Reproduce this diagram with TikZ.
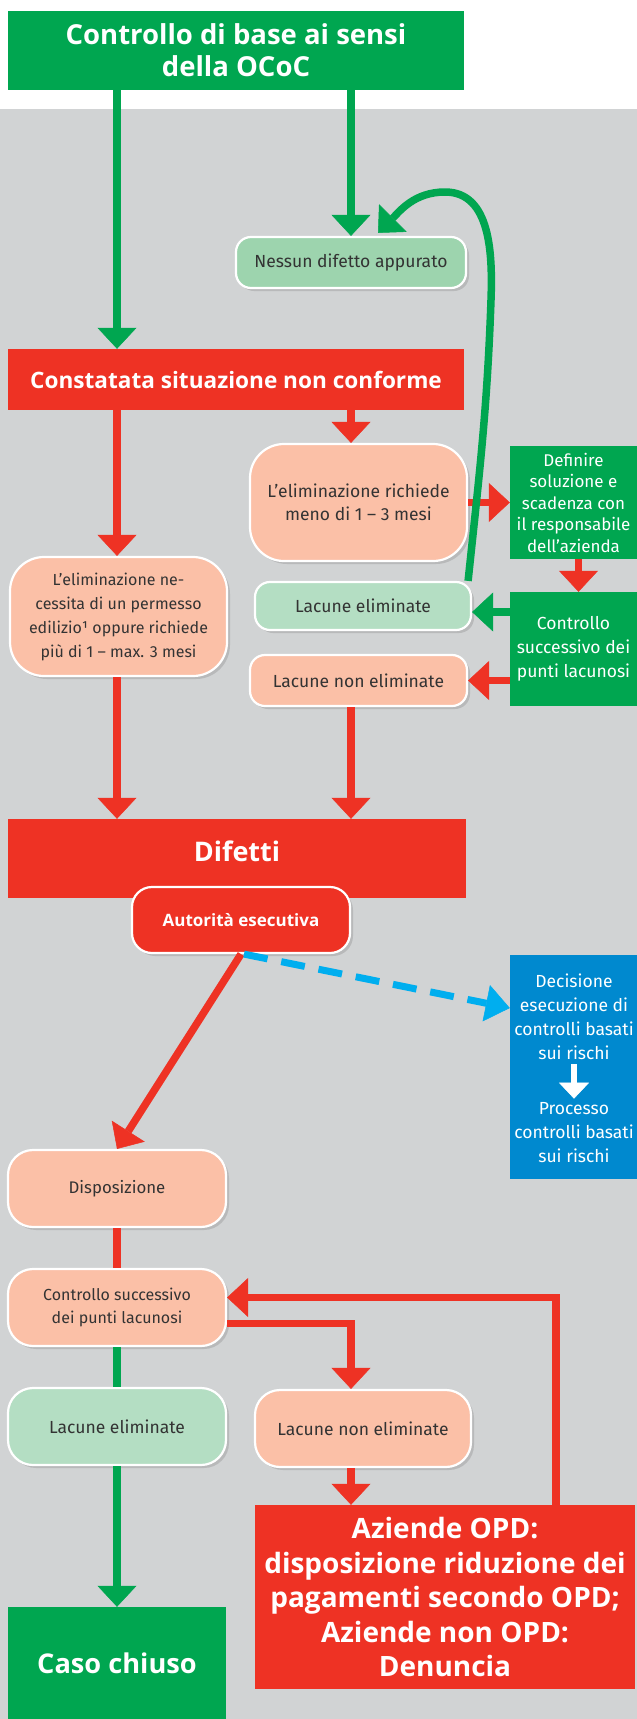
\documentclass[tikz,border=0pt]{standalone}
\usepackage{fontspec}
\setmainfont{Fira Sans}
\newfontfamily\headfont{Open Sans}
\usetikzlibrary{arrows.meta}
\usetikzlibrary{shadows}
\definecolor{ocgreen}{HTML}{00A650}
\definecolor{ocred}{HTML}{EE3224}
\definecolor{salmon}{HTML}{FBC0A7}
\definecolor{mint}{HTML}{9DD4AE}
\definecolor{mintlight}{HTML}{B4DEC3}
\definecolor{ocblue}{HTML}{0089CF}
\definecolor{dashblue}{HTML}{00AEEF}
\definecolor{bggrey}{HTML}{D1D3D4}
\definecolor{txtgrey}{HTML}{333333}

\begin{document}
\begin{tikzpicture}[
    x=1pt, y=1pt,
    every node/.style={inner sep=0pt, align=center},
    small text/.style={font=\fontsize{17.5}{23}\selectfont},
    flat green/.style={fill=ocgreen, text=white},
    flat red/.style={fill=ocred, text=white},
    soft/.style={rounded corners=#1, draw=white, line width=2.2pt, text=txtgrey, small text,
        drop shadow={shadow xshift=3pt, shadow yshift=-3pt, opacity=0.3}},
    soft/.default=16pt,
    green arrow/.style={draw=ocgreen, line width=7.5pt, -{Triangle[width=39pt,length=21pt,line width=0.5pt]}},
    red arrow/.style={draw=ocred, line width=7.5pt, -{Triangle[width=39pt,length=21pt,line width=0.5pt]}},
    green line/.style={draw=ocgreen, line width=7.5pt},
    red line/.style={draw=ocred, line width=7.5pt},
    blue dashed/.style={draw=dashblue, line width=7pt, dash pattern=on 24pt off 14pt,
        -{Triangle[width=37pt,length=24pt,line width=0.5pt]}},
    white arrow/.style={draw=white, line width=6pt, -{Triangle[width=30pt,length=16pt,line width=0.5pt]}}
    ]

    % page and background
    \useasboundingbox (0,0) rectangle (637,-1719);
    \fill[bggrey] (0,-109) rectangle (637,-1719);

    % upper part
    \node[flat green, font=\headfont\bfseries\fontsize{27.5}{32}\selectfont, minimum width=456, minimum height=79] (title) at (236,-50.5)
        {Controllo di base ai sensi\\della OCoC};
    \node[soft=15pt, fill=mint, minimum width=230, minimum height=51] (nessun) at (351,-262.5)
        {Nessun difetto appurato};
    \node[flat red, font=\headfont\bfseries\fontsize{22.6}{30}\selectfont, minimum width=456, minimum height=61] (constat) at (236,-379.5)
        {Constatata situazione non conforme};
    \node[soft=34pt, fill=salmon, minimum width=217, minimum height=117] (richiede) at (358.5,-502.5)
        {L’eliminazione richiede\\meno di 1 – 3 mesi};
    \node[flat green, font=\fontsize{17}{21.5}\selectfont, minimum width=127, minimum height=113] (definire) at (573.5,-502.5)
        {Definire\\soluzione e\\scadenza con\\il responsabile\\dell’azienda};
    \node[flat green, font=\fontsize{17.5}{24}\selectfont, minimum width=127, minimum height=114] (ctrlR) at (573.5,-649)
        {Controllo\\successivo dei\\punti lacunosi};
    \node[soft=15pt, fill=mintlight, minimum width=216, minimum height=48] (lacElimA) at (363,-606)
        {Lacune eliminate};
    \node[soft=15pt, fill=salmon, minimum width=217, minimum height=51] (lacNonA) at (358.5,-680.5)
        {Lacune non eliminate};
    \node[soft=34pt, fill=salmon, font=\fontsize{16}{24}\selectfont, minimum width=217, minimum height=119] (permesso) at (118.5,-616.5)
        {L’eliminazione ne-\\cessita di un permesso\\edilizio¹ oppure richiede\\più di 1 – max. 3 mesi};

    % middle part
    \node[flat red, font=\headfont\bfseries\fontsize{27}{34}\selectfont, text depth=14pt, minimum width=458, minimum height=79] (difetti) at (237,-858.5)
        {Difetti};
    \node[soft=20pt, fill=ocred, text=white, font=\headfont\bfseries\fontsize{17}{20}\selectfont, minimum width=218, minimum height=66] (autorita) at (241,-920)
        {Autorità esecutiva};
    \node[fill=ocblue, minimum width=127, minimum height=224] (decisione) at (573.5,-1067) {};
    \node[text=white, font=\fontsize{17.5}{24}\selectfont] (decA) at (574,-1017)
        {Decisione\\esecuzione di\\controlli basati\\sui rischi};
    \node[text=white, font=\fontsize{17.5}{24}\selectfont] (procB) at (574,-1133)
        {Processo\\controlli basati\\sui rischi};

    % lower part
    \node[soft=25pt, fill=salmon, font=\fontsize{16.8}{23}\selectfont, minimum width=218, minimum height=77] (dispos) at (117,-1188.5)
        {Disposizione};
    \node[soft=25pt, fill=salmon, font=\fontsize{16}{23}\selectfont, minimum width=218, minimum height=77] (ctrlL) at (117,-1307.5)
        {Controllo successivo\\dei punti lacunosi};
    \node[soft=25pt, fill=mintlight, minimum width=218, minimum height=77] (lacElimB) at (117,-1426.5)
        {Lacune eliminate};
    \node[soft=25pt, fill=salmon, minimum width=216, minimum height=77] (lacNonB) at (363,-1428.5)
        {Lacune non eliminate};
    \node[flat red, font=\headfont\bfseries\fontsize{28}{34.5}\selectfont, minimum width=380, minimum height=184] (aziende) at (445,-1597)
        {Aziende OPD:\\disposizione riduzione dei\\pagamenti secondo OPD;\\Aziende non OPD:\\Denuncia};
    \node[flat green, font=\headfont\bfseries\fontsize{27.2}{34}\selectfont, minimum width=218, minimum height=112] (caso) at (117,-1663)
        {Caso chiuso};

    % arrows, upper part
    \draw[green arrow] (title.south -| dispos) -- (dispos |- constat.north);
    \draw[green arrow] (title.south -| nessun) -- (nessun.north);
    \draw[red arrow] (constat.south -| dispos) -- (dispos |- permesso.north);
    \draw[red arrow] (constat.south -| nessun) -- (nessun |- richiede.north);
    \draw[red arrow] (richiede.east) -- (definire.west);
    \draw[red arrow] ([xshift=5pt]definire.south) -- ([xshift=5pt]ctrlR.north);
    \draw[green arrow] ([yshift=-6pt]ctrlR.west |- lacElimA) -- ([yshift=-6pt]lacElimA.east);
    \draw[red arrow] (ctrlR.west |- lacNonA) -- (lacNonA.east);
    \draw[green arrow] ([xshift=-4pt]lacElimA.north east) to[out=84,in=-92] (491,-300)
        to[out=88,in=0] (445,-192) to[out=180,in=45] ([xshift=27pt,yshift=3pt]nessun.north);

    % arrows, middle part
    \draw[red arrow] (permesso.south -| dispos) -- (dispos |- difetti.north);
    \draw[red arrow] (lacNonA.south -| nessun) -- (nessun |- difetti.north);
    \draw[red arrow] (autorita.south) -- (dispos.north);
    \draw[blue dashed] ([xshift=3pt]autorita.south) -- ([yshift=59pt]decisione.west);
    \draw[white arrow] ([yshift=-4pt]decA.south) -- ([yshift=4pt]procB.north);

    % arrows, lower part
    \draw[red line] (dispos.south) -- (ctrlL.north);
    \draw[green line] (ctrlL.south) -- (lacElimB.north);
    \draw[red arrow] ([yshift=-16pt]ctrlL.east) -| (nessun |- lacNonB.north);
    \draw[red arrow] (lacNonB.south -| nessun) -- (nessun |- aziende.north);
    \draw[red arrow] ([xshift=111pt]aziende.north) |- ([yshift=10pt]ctrlL.east);
    \draw[green arrow] (lacElimB.south) -- (caso.north);
\end{tikzpicture}
\end{document}
